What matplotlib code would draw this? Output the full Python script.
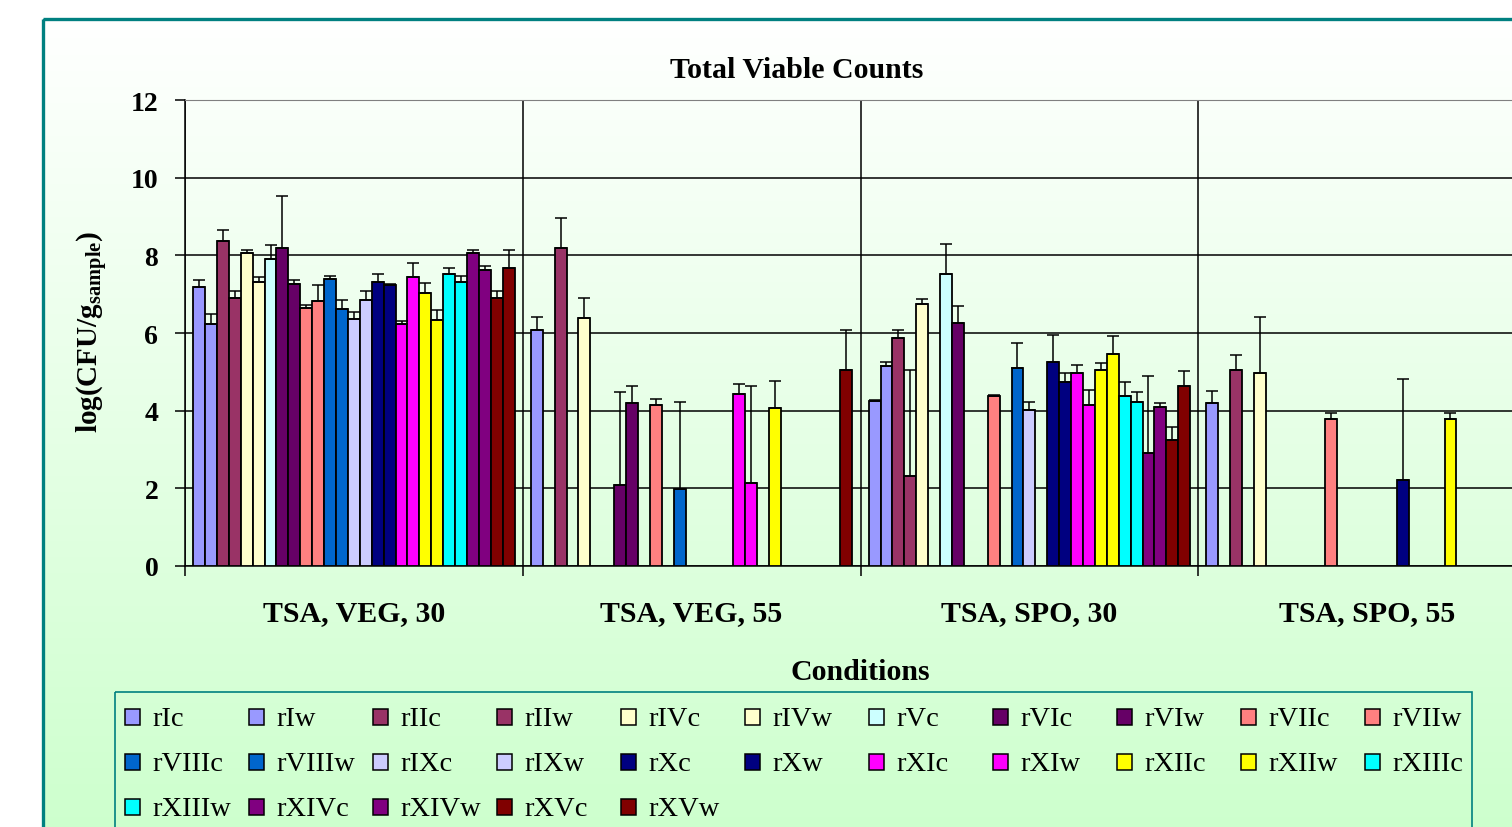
"""Total viable counts per condition, grouped bar chart with upper error bars."""

import matplotlib
matplotlib.use("Agg")
import matplotlib.pyplot as plt
import numpy as np
from matplotlib.patches import Rectangle

W, H = 1512, 828
nan = np.nan

conditions = ["TSA, VEG, 30", "TSA, VEG, 55", "TSA, SPO, 30", "TSA, SPO, 55"]

series = ["rIc", "rIw", "rIIc", "rIIw", "rIVc", "rIVw", "rVc", "rVIc", "rVIw",
          "rVIIc", "rVIIw", "rVIIIc", "rVIIIw", "rIXc", "rIXw", "rXc", "rXw",
          "rXIc", "rXIw", "rXIIc", "rXIIw", "rXIIIc", "rXIIIw", "rXIVc", "rXIVw",
          "rXVc", "rXVw"]

colors = ["#9999FF", "#9999FF", "#993366", "#993366", "#FFFFCC", "#FFFFCC",
          "#CCFFFF", "#660066", "#660066", "#FF8080", "#FF8080", "#0066CC",
          "#0066CC", "#CCCCFF", "#CCCCFF", "#000080", "#000080", "#FF00FF",
          "#FF00FF", "#FFFF00", "#FFFF00", "#00FFFF", "#00FFFF", "#800080",
          "#800080", "#800000", "#800000"]

# log(CFU/g) per series, one list per condition (nan = not determined)
veg30 = [7.19, 6.23, 8.38, 6.90, 8.05, 7.31, 7.90, 8.18, 7.27, 6.65, 6.82, 7.40,
         6.61, 6.37, 6.86, 7.31, 7.24, 6.24, 7.43, 7.03, 6.33, 7.52, 7.31, 8.05,
         7.61, 6.90, 7.68]
veg55 = [6.08, nan, 8.18, nan, 6.38, nan, nan, 2.09, 4.19, nan, 4.15, nan,
         1.97, nan, nan, nan, nan, 4.43, 2.13, nan, 4.06, nan, nan, nan,
         nan, nan, 5.05]
spo30 = [4.25, 5.14, 5.88, 2.33, 6.74, nan, 7.52, 6.25, nan, nan, 4.39, nan,
         5.09, 4.03, nan, 5.25, 4.73, 4.97, 4.14, 5.06, 5.47, 4.39, 4.23, 2.91,
         4.10, 3.24, 4.64]
spo55 = [4.19, nan, 5.06, nan, 4.98, nan, nan, nan, nan, nan, 3.78, nan,
         nan, nan, nan, nan, 2.21, nan, nan, nan, 3.78, nan, nan, nan,
         nan, nan, nan]

# upper error (standard deviation)
err_veg30 = [0.17, 0.26, 0.26, 0.17, 0.09, 0.12, 0.37, 1.36, 0.10, 0.08, 0.42, 0.08,
             0.25, 0.16, 0.21, 0.21, 0.03, 0.08, 0.38, 0.25, 0.25, 0.16, 0.17, 0.09,
             0.12, 0.17, 0.46]
err_veg55 = [0.33, nan, 0.78, nan, 0.52, nan, nan, 2.39, 0.45, nan, 0.15, nan,
             2.26, nan, nan, nan, nan, 0.26, 2.51, nan, 0.70, nan, nan, nan,
             nan, nan, 1.03]
err_spo30 = [0.02, 0.12, 0.21, 2.72, 0.13, nan, 0.78, 0.45, nan, nan, 0.02, nan,
             0.65, 0.20, nan, 0.71, 0.24, 0.21, 0.38, 0.17, 0.45, 0.34, 0.26, 1.98,
             0.09, 0.33, 0.37]
err_spo55 = [0.32, nan, 0.37, nan, 1.44, nan, nan, nan, nan, nan, 0.16, nan,
             nan, nan, nan, nan, 2.60, nan, nan, nan, 0.16, nan, nan, nan,
             nan, nan, nan]

plt.rcParams["font.family"] = ["Liberation Serif", "DejaVu Serif"]
plt.rcParams["font.weight"] = "bold"
plt.rcParams["mathtext.fontset"] = "custom"
plt.rcParams["mathtext.rm"] = "Liberation Serif:bold"
plt.rcParams["mathtext.it"] = "Liberation Serif:bold"
plt.rcParams["mathtext.bf"] = "Liberation Serif:bold"


def main() -> None:
    fig = plt.figure(figsize=(W / 100, H / 100), dpi=100)

    # background in pixel coordinates: gradient, teal frame, legend
    bg = fig.add_axes([0, 0, 1, 1], zorder=-10)
    bg.set_xlim(0, W)
    bg.set_ylim(H, 0)
    bg.axis("off")
    t = np.linspace(0, 1, 256)[:, None]
    top = np.array([1.0, 1.0, 1.0])
    bottom = np.array([0.8, 1.0, 0.8])
    grad = (top + (bottom - top) * t[..., None]) * np.ones((1, 2, 1))
    bg.imshow(grad, extent=(43, W + 20, 850, 20), aspect="auto", zorder=0)
    bg.add_patch(Rectangle((43, 20), W, H, fill=False, edgecolor="#008080", lw=2.4, zorder=1))

    # legend box with equal-width columns like the original
    bg.add_patch(Rectangle((115, 693), 1357, 200, fill=False, edgecolor="#008080", lw=1.2, zorder=1))
    for i, name in enumerate(series):
        row, col = divmod(i, 11)
        x0 = 125 + col * 124
        yc = 718 + row * 45
        bg.add_patch(Rectangle((x0, yc - 8), 15, 16, facecolor=colors[i],
                               edgecolor="black", lw=1.1, zorder=2))
        bg.text(x0 + 27, yc + 2, name, fontsize=20.5, fontweight="normal",
                va="center", ha="left", zorder=2)

    ax = fig.add_axes([185 / W, 1 - 567 / H, 1351 / W, 466 / H])
    ax.set_facecolor("none")

    data = np.array([veg30, veg55, spo30, spo55])
    errs = np.array([err_veg30, err_veg55, err_spo30, err_spo55])
    n = len(series)
    width = 0.952 / n
    xg = np.arange(len(conditions))
    for i in range(n):
        x = xg - 0.476 + (i + 0.5) * width
        h = data[:, i]
        ax.bar(x, h, width, color=colors[i], edgecolor="black", linewidth=1.3, zorder=3)
        ok = ~np.isnan(h)
        ax.errorbar(x[ok], h[ok], yerr=[np.zeros(ok.sum()), errs[ok, i]], fmt="none",
                    ecolor="black", elinewidth=1.1, capsize=4.3, capthick=1.1, zorder=4)

    ax.set_xlim(-0.5, 3.5)
    ax.set_ylim(0, 12)
    ax.set_yticks(range(0, 13, 2))
    ax.yaxis.grid(True, color="black", lw=1.1)
    ax.set_xticks([-0.5, 0.5, 1.5, 2.5, 3.5])
    ax.xaxis.grid(True, color="black", lw=1.1)
    ax.set_xticks(xg, minor=True)
    ax.set_xticklabels(conditions, minor=True)
    ax.tick_params(axis="x", which="major", length=7.2, width=1.1, labelbottom=False)
    ax.tick_params(axis="x", which="minor", length=0, pad=24, labelsize=21.5)
    ax.tick_params(axis="y", length=7.2, width=1.1, pad=12, labelsize=20)
    ax.spines["top"].set_color("#808080")
    ax.spines["right"].set_visible(False)
    for side in ("left", "bottom"):
        ax.spines[side].set_linewidth(1.1)

    fig.text(797 / W, 1 - 70 / H, "Total Viable Counts", ha="center", va="center", fontsize=21.5)
    fig.text(860 / W, 1 - 672 / H, "Conditions", ha="center", va="center", fontsize=21.5)
    fig.text(92 / W, 1 - 332 / H, r"log(CFU/$\mathrm{g_{sample}}$)", ha="center", va="center",
             rotation=90, fontsize=21)

    fig.savefig("out.png", dpi=100)


if __name__ == "__main__":
    main()
